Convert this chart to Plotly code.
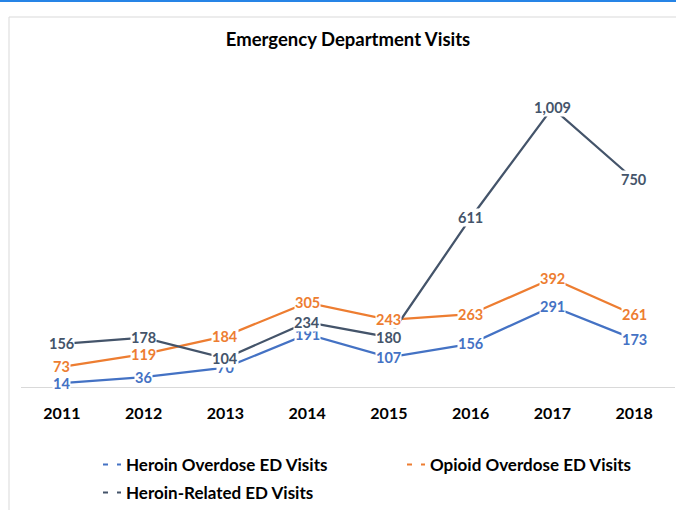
import plotly.graph_objects as go

years = ["2011", "2012", "2013", "2014", "2015", "2016", "2017", "2018"]
heroin_overdose = [14, 36, 70, 191, 107, 156, 291, 173]
opioid_overdose = [73, 119, 184, 305, 243, 263, 392, 261]
heroin_related = [156, 178, 104, 234, 180, 611, 1009, 750]

series_names = ["Heroin Overdose ED Visits", "Opioid Overdose ED Visits", "Heroin-Related ED Visits"]
series_colors = ["#4472C4", "#ED7D31", "#44546A"]
series_values = [heroin_overdose, opioid_overdose, heroin_related]
legend_ids = ["legend", "legend3", "legend2"]

FONT = "Lato"
W, H = 676, 510
L, R, T, B = 21, 1, 55, 123
pw, ph = W - L - R, H - T - B

def px_x(p):
    return (p - L) / pw

def px_y(p):
    return (H - B - p) / ph

fig = go.Figure()
for name, color, vals in zip(series_names, series_colors, series_values):
    fig.add_trace(go.Scatter(x=years, y=vals, mode="lines", name=name,
                             line=dict(color=color, width=2.25),
                             showlegend=False, hoverinfo="skip"))

for name, color, lg in zip(series_names, series_colors, legend_ids):
    fig.add_trace(go.Scatter(x=[None], y=[None], mode="lines", name=name,
                             line=dict(color=color, width=2, dash="0px,12px,5px,9px,5px,30px"),
                             legend=lg))

annotations = []
for color, vals in zip(series_colors, series_values):
    for i, v in enumerate(vals):
        annotations.append(dict(x=i, y=v, xref="x", yref="y", text=f"{v:,}",
                                showarrow=False, bgcolor="white", borderpad=0,
                                xanchor="center", yanchor="middle",
                                font=dict(family=FONT, size=14.5, color=color, weight="bold")))

shapes = [
    dict(type="rect", xref="paper", yref="paper", x0=px_x(9), x1=px_x(700),
         y0=px_y(530), y1=px_y(17), line=dict(color="#D9D9D9", width=1), layer="below"),
    dict(type="line", xref="paper", yref="paper", x0=px_x(-5), x1=px_x(700),
         y0=px_y(1), y1=px_y(1), line=dict(color="#2684E6", width=2)),
]

legend_font = dict(family=FONT, size=17, color="black", weight="bold")

fig.update_layout(
    width=W, height=H,
    margin=dict(l=L, r=R, t=T, b=B, autoexpand=False),
    paper_bgcolor="white", plot_bgcolor="white",
    title=dict(text="Emergency Department Visits", x=px_x(348), xref="paper",
               xanchor="center", y=1 - 40 / H, yref="container", yanchor="middle",
               font=dict(family=FONT, size=18.5, color="black", weight="bold")),
    xaxis=dict(type="category", range=[-0.5, 7.5], showline=True, linecolor="#D9D9D9",
               linewidth=1, showgrid=False, zeroline=False, ticks="",
               ticklabelstandoff=12,
               tickfont=dict(family=FONT, size=16, color="black", weight="bold")),
    yaxis=dict(range=[0, 1200], visible=False, showgrid=False, zeroline=False),
    legend=dict(orientation="h", x=px_x(86), xanchor="left", y=px_y(465), yanchor="middle",
                font=legend_font, bgcolor="rgba(0,0,0,0)"),
    legend3=dict(orientation="h", x=px_x(390), xanchor="left", y=px_y(465), yanchor="middle",
                 font=legend_font, bgcolor="rgba(0,0,0,0)"),
    legend2=dict(orientation="h", x=px_x(86), xanchor="left", y=px_y(493), yanchor="middle",
                 font=legend_font, bgcolor="rgba(0,0,0,0)"),
    annotations=annotations,
    shapes=shapes,
    showlegend=True,
)

fig.write_html("out.html", config={"displayModeBar": False},
               post_script="document.body.style.margin='0';")
